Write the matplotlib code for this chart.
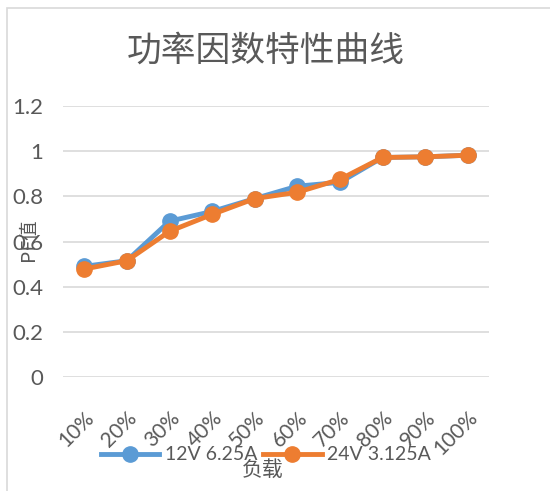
import matplotlib.pyplot as plt
from matplotlib.lines import Line2D
from matplotlib.patches import Rectangle

plt.rcParams['font.family'] = ['Lato', 'Noto Sans CJK SC', 'DejaVu Sans']

loads = ["10%", "20%", "30%", "40%", "50%", "60%", "70%", "80%", "90%", "100%"]
pf_12v = [0.49, 0.515, 0.69, 0.733, 0.79, 0.845, 0.862, 0.972, 0.975, 0.982]
pf_24v = [0.478, 0.515, 0.645, 0.72, 0.79, 0.818, 0.875, 0.972, 0.975, 0.982]
series_names = ["12V 6.25A", "24V 3.125A"]
y_ticks = [0, 0.2, 0.4, 0.6, 0.8, 1.0, 1.2]
y_labels = ["0", "0.2", "0.4", "0.6", "0.8", "1", "1.2"]

blue = "#5B9BD5"
orange = "#ED7D31"
gray = "#595959"

fig = plt.figure(figsize=(5.5, 4.91), dpi=100)
fig.patches.append(Rectangle((7 / 550, -0.1), 1.2, 1 - 8 / 491 + 0.1,
                             transform=fig.transFigure, fill=False,
                             edgecolor="#D9D9D9", linewidth=1.2))
ax = fig.add_axes([63 / 550, 1 - 377 / 491, 426 / 550, 271 / 491])

x = list(range(len(loads)))
ax.plot(x, pf_12v, color=blue, lw=3.5, marker="o", ms=11, zorder=3)
ax.plot(x, pf_24v, color=orange, lw=3.5, marker="o", ms=11, zorder=4)

ax.set_xlim(-0.5, len(loads) - 0.5)
ax.set_ylim(0, 1.2)
ax.set_yticks(y_ticks)
ax.set_yticklabels(y_labels)
ax.set_xticks(x)
ax.set_xticklabels(loads, rotation=45, ha="right", va="top",
                   rotation_mode="anchor")
ax.tick_params(axis="both", length=0, labelsize=16, labelcolor=gray)
ax.tick_params(axis="x", labelsize=15, pad=22)
ax.tick_params(axis="y", pad=14)
ax.grid(axis="y", color="#D9D9D9", lw=1.2)
ax.set_axisbelow(True)
for s in ax.spines.values():
    s.set_visible(False)

fig.text(266 / 550, 1 - 51 / 491, "功率因数特性曲线", ha="center", va="center",
         fontsize=25, color=gray, family=["Noto Sans CJK SC"], fontweight="light")
fig.text(28 / 550, 1 - 240 / 491, "PF值", rotation=90, ha="center", va="center",
         fontsize=14, color=gray, family=["Noto Sans CJK SC"])
fig.text(263 / 550, 1 - 470 / 491, "负载", ha="center", va="center",
         fontsize=15, color=gray, family=["Noto Sans CJK SC"])

handles = [Line2D([], [], color=blue, lw=3.5, marker="o", ms=11),
           Line2D([], [], color=orange, lw=3.5, marker="o", ms=11)]
fig.legend(handles, series_names, loc="center", ncol=2,
           bbox_to_anchor=(266 / 550, 1 - 455 / 491), frameon=False,
           fontsize=14, labelcolor=gray, handlelength=3.0,
           handletextpad=0.3, columnspacing=0.3)

fig.savefig("out.png", dpi=100, facecolor="white")
